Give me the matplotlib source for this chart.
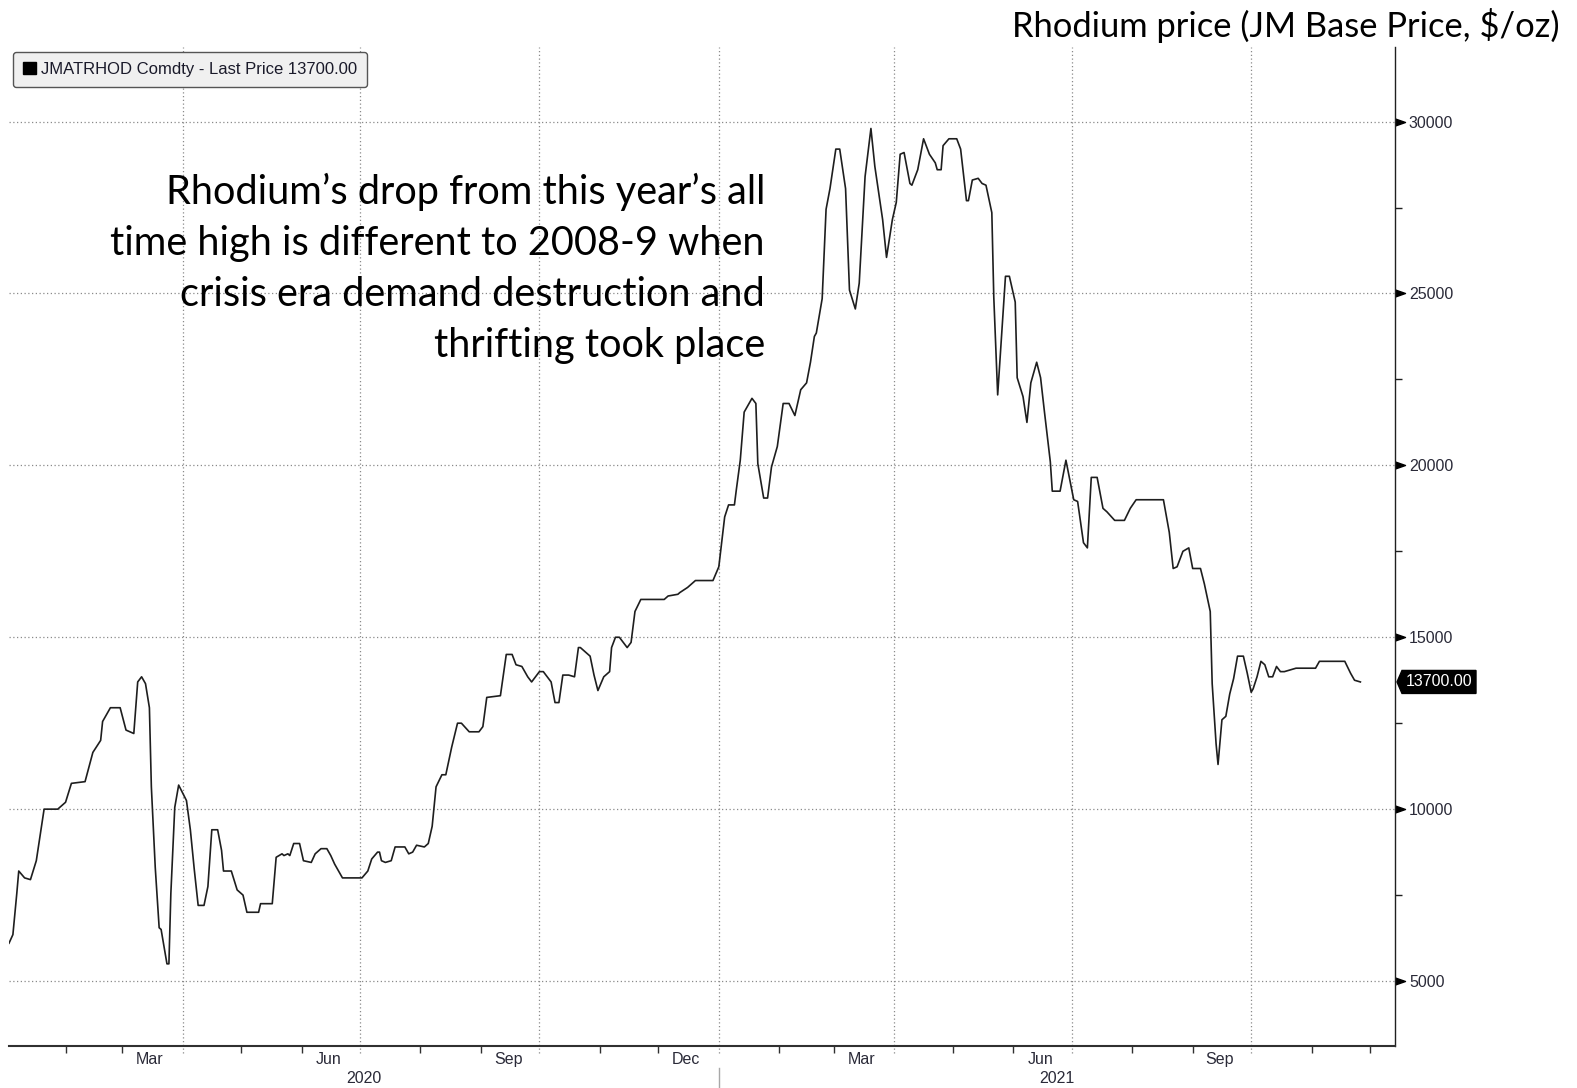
import matplotlib
matplotlib.use('Agg')
import matplotlib.pyplot as plt
import matplotlib.transforms as mtransforms
from matplotlib.patches import Patch, Polygon
import pandas as pd

# JM base rhodium price, $/oz
dates = [
    '2020-01-03', '2020-01-05', '2020-01-07', '2020-01-08', '2020-01-11', '2020-01-14', '2020-01-17',
    '2020-01-21', '2020-01-28', '2020-02-01', '2020-02-04', '2020-02-11', '2020-02-15', '2020-02-19',
    '2020-02-20', '2020-02-24', '2020-02-29', '2020-03-03', '2020-03-07', '2020-03-09', '2020-03-11',
    '2020-03-13', '2020-03-15', '2020-03-16', '2020-03-18', '2020-03-20', '2020-03-21', '2020-03-24',
    '2020-03-25', '2020-03-26', '2020-03-28', '2020-03-30', '2020-04-03', '2020-04-05', '2020-04-07',
    '2020-04-09', '2020-04-12', '2020-04-14', '2020-04-16', '2020-04-19', '2020-04-21', '2020-04-22',
    '2020-04-26', '2020-04-29', '2020-05-02', '2020-05-04', '2020-05-10', '2020-05-11', '2020-05-17',
    '2020-05-19', '2020-05-22', '2020-05-23', '2020-05-25', '2020-05-26', '2020-05-28', '2020-05-31',
    '2020-06-02', '2020-06-06', '2020-06-08', '2020-06-11', '2020-06-14', '2020-06-16', '2020-06-18',
    '2020-06-20', '2020-06-22', '2020-07-02', '2020-07-05', '2020-07-07', '2020-07-10', '2020-07-11',
    '2020-07-12', '2020-07-14', '2020-07-17', '2020-07-19', '2020-07-24', '2020-07-26', '2020-07-28',
    '2020-07-30', '2020-08-03', '2020-08-05', '2020-08-07', '2020-08-09', '2020-08-12', '2020-08-14',
    '2020-08-17', '2020-08-20', '2020-08-22', '2020-08-26', '2020-08-31', '2020-09-02', '2020-09-04',
    '2020-09-11', '2020-09-14', '2020-09-17', '2020-09-19', '2020-09-22', '2020-09-25', '2020-09-27',
    '2020-10-01', '2020-10-03', '2020-10-07', '2020-10-09', '2020-10-11', '2020-10-13', '2020-10-16',
    '2020-10-19', '2020-10-21', '2020-10-22', '2020-10-27', '2020-10-29', '2020-10-31', '2020-11-03',
    '2020-11-06', '2020-11-07', '2020-11-09', '2020-11-11', '2020-11-15', '2020-11-17', '2020-11-19',
    '2020-11-22', '2020-12-04', '2020-12-06', '2020-12-11', '2020-12-12', '2020-12-16', '2020-12-20',
    '2020-12-29', '2021-01-01', '2021-01-04', '2021-01-06', '2021-01-09', '2021-01-10', '2021-01-12',
    '2021-01-14', '2021-01-16', '2021-01-18', '2021-01-20', '2021-01-21', '2021-01-24', '2021-01-26',
    '2021-01-28', '2021-01-31', '2021-02-03', '2021-02-06', '2021-02-09', '2021-02-12', '2021-02-15',
    '2021-02-17', '2021-02-19', '2021-02-20', '2021-02-23', '2021-02-25', '2021-02-27', '2021-03-02',
    '2021-03-04', '2021-03-07', '2021-03-09', '2021-03-12', '2021-03-14', '2021-03-17', '2021-03-20',
    '2021-03-22', '2021-03-26', '2021-03-28', '2021-03-31', '2021-04-02', '2021-04-04', '2021-04-06',
    '2021-04-09', '2021-04-10', '2021-04-13', '2021-04-16', '2021-04-19', '2021-04-22', '2021-04-23',
    '2021-04-25', '2021-04-26', '2021-04-29', '2021-05-03', '2021-05-05', '2021-05-08', '2021-05-09',
    '2021-05-11', '2021-05-14', '2021-05-16', '2021-05-18', '2021-05-21', '2021-05-22', '2021-05-24',
    '2021-05-28', '2021-05-30', '2021-06-02', '2021-06-03', '2021-06-06', '2021-06-08', '2021-06-10',
    '2021-06-13', '2021-06-15', '2021-06-17', '2021-06-20', '2021-06-21', '2021-06-25', '2021-06-28',
    '2021-07-02', '2021-07-04', '2021-07-07', '2021-07-09', '2021-07-11', '2021-07-14', '2021-07-17',
    '2021-07-19', '2021-07-23', '2021-07-28', '2021-07-31', '2021-08-03', '2021-08-17', '2021-08-20',
    '2021-08-22', '2021-08-24', '2021-08-27', '2021-08-30', '2021-09-01', '2021-09-05', '2021-09-07',
    '2021-09-10', '2021-09-11', '2021-09-13', '2021-09-14', '2021-09-16', '2021-09-18', '2021-09-20',
    '2021-09-22', '2021-09-24', '2021-09-27', '2021-09-29', '2021-10-01', '2021-10-02', '2021-10-04',
    '2021-10-06', '2021-10-08', '2021-10-10', '2021-10-12', '2021-10-14', '2021-10-16', '2021-10-18',
    '2021-10-24', '2021-11-03', '2021-11-05', '2021-11-18', '2021-11-21', '2021-11-23', '2021-11-26',
]
prices = [
    6100, 6350, 7550, 8200, 8000, 7950, 8500,
    10000, 10000, 10200, 10750, 10800, 11650, 12000,
    12550, 12950, 12950, 12300, 12200, 13700, 13850,
    13650, 12950, 10650, 8300, 6550, 6500, 5500,
    5500, 7550, 10050, 10700, 10250, 9400, 8250,
    7200, 7200, 7750, 9400, 9400, 8800, 8200,
    8200, 7650, 7500, 7000, 7000, 7250, 7250,
    8600, 8700, 8650, 8700, 8650, 9000, 9000,
    8500, 8450, 8700, 8850, 8850, 8650, 8400,
    8200, 8000, 8000, 8200, 8550, 8750, 8750,
    8500, 8450, 8500, 8900, 8900, 8700, 8750,
    8950, 8900, 9000, 9500, 10650, 11000, 11000,
    11800, 12500, 12500, 12250, 12250, 12400, 13250,
    13300, 14500, 14500, 14200, 14150, 13850, 13700,
    14000, 14000, 13700, 13100, 13100, 13900, 13900,
    13850, 14700, 14700, 14450, 13900, 13450, 13850,
    14000, 14700, 15000, 15000, 14700, 14850, 15750,
    16100, 16100, 16200, 16250, 16300, 16450, 16650,
    16650, 17050, 18500, 18850, 18850, 19300, 20150,
    21550, 21750, 21950, 21800, 20050, 19050, 19050,
    19950, 20550, 21800, 21800, 21450, 22200, 22400,
    23000, 23750, 23850, 24850, 27450, 28050, 29200,
    29200, 28050, 25100, 24550, 25300, 28400, 29800,
    28700, 27150, 26050, 27150, 27650, 29050, 29100,
    28200, 28150, 28600, 29500, 29050, 28800, 28600,
    28600, 29300, 29500, 29500, 29200, 27700, 27700,
    28300, 28350, 28200, 28150, 27350, 24900, 22050,
    25500, 25500, 24750, 22550, 22000, 21250, 22400,
    23000, 22550, 21550, 20100, 19250, 19250, 20150,
    19000, 18950, 17750, 17600, 19650, 19650, 18750,
    18650, 18400, 18400, 18750, 19000, 19000, 18050,
    17000, 17050, 17500, 17600, 17000, 17000, 16550,
    15750, 13650, 11900, 11300, 12600, 12700, 13350,
    13800, 14450, 14450, 13950, 13400, 13500, 13850,
    14300, 14200, 13850, 13850, 14150, 14000, 14000,
    14100, 14100, 14300, 14300, 13950, 13750, 13700,
]

ticker = 'JMATRHOD Comdty'
title = 'Rhodium price (JM Base Price, $/oz)'
note_lines = [
    'Rhodium\u2019s drop from this year\u2019s all',
    'time high is different to 2008-9 when',
    'crisis era demand destruction and',
    'thrifting took place',
]
y_major = [5000, 10000, 15000, 20000, 25000, 30000]
y_minor = [7500, 12500, 17500, 22500, 27500]
month_labels = ['Mar', 'Jun', 'Sep', 'Dec']

W, H = 1577, 1088
axis_font = ['Liberation Sans', 'DejaVu Sans']
text_col = '#2a2a38'
grid_col = '#8a8a8a'

fig = plt.figure(figsize=(W / 100, H / 100), dpi=100)
ax = fig.add_axes([9 / W, 1 - 1046 / H, (1395 - 9) / W, (1046 - 47) / H])

x = pd.to_datetime(dates)
last = prices[-1]
ax.plot(x, prices, color='#1e1e1e', lw=1.2, solid_joinstyle='round')

x0, x1 = pd.Timestamp('2020-01-03'), pd.Timestamp('2021-12-13 18:00')
ax.set_xlim(x0, x1)
ax.set_ylim(3110, 32170)

for side in ('left', 'top'):
    ax.spines[side].set_visible(False)
ax.spines['bottom'].set_linewidth(1.5)
ax.spines['bottom'].set_color('#303030')
ax.spines['right'].set_linewidth(1.0)
ax.spines['right'].set_color('#202020')

# grid: dotted, quarter starts and every 5000
quarters = pd.date_range('2020-04-01', '2021-10-01', freq='QS')
for q in quarters:
    ax.axvline(q, ymin=-0.007, ymax=1, color=grid_col, lw=0.9, ls=(0, (1, 2)), clip_on=False, zorder=0)
for v in y_major:
    ax.axhline(v, color=grid_col, lw=0.9, ls=(0, (1, 2)), zorder=0)

# x axis: month ticks, labels centred in the month
months = [m for m in pd.date_range('2020-02-01', '2021-12-01', freq='MS') if m.month not in (1, 4, 7, 10)]
ax.set_xticks(months)
ax.set_xticklabels([])
ax.tick_params(axis='x', which='major', length=5, width=1, color='#303030', direction='out')
label_pos, label_txt = [], []
for yr in (2020, 2021):
    for name in month_labels:
        m = pd.Timestamp(f'{name} 15 {yr}')
        if x0 < m < x1:
            label_pos.append(m)
            label_txt.append(name)
ax.set_xticks(label_pos, minor=True)
ax.set_xticklabels(label_txt, minor=True, fontsize=11.5, family=axis_font, color=text_col)
ax.tick_params(axis='x', which='minor', length=0, pad=4)

# year labels and separator
tr_x = mtransforms.blended_transform_factory(ax.transData, ax.transAxes)
jan21 = pd.Timestamp('2021-01-01')
for a, b, yr in ((x0, jan21, '2020'), (jan21, x1, '2021')):
    ax.text(a + (b - a) / 2, -0.033, yr, transform=tr_x, ha='center', va='center',
            fontsize=11.5, family=axis_font, color=text_col)
ax.plot([jan21, jan21], [-0.022, -0.043], transform=tr_x, color='#a8a8a8', lw=1, clip_on=False)

# y axis on the right with arrow heads at major ticks
ax.yaxis.tick_right()
ax.set_yticks(y_major)
ax.set_yticklabels([str(v) for v in y_major], fontsize=11.5, family=axis_font, color=text_col)
ax.tick_params(axis='y', which='major', length=0, pad=10)
ax.set_yticks(y_minor, minor=True)
ax.tick_params(axis='y', which='minor', length=5, width=1, color='#202020', direction='out')
tr_y = mtransforms.blended_transform_factory(ax.transAxes, ax.transData)
ax.plot([1] * len(y_major), y_major, ls='none', marker=[(0, -3.5), (10, 0), (0, 3.5)],
        ms=14.4, color='black', transform=tr_y, clip_on=False)

# last price tag
tag_tf = mtransforms.Affine2D() + mtransforms.ScaledTranslation(1.0, last, tr_y)
tag = Polygon([(2, 0), (7, 11.5), (81, 11.5), (81, -11.5), (7, -11.5)], closed=True,
              fc='black', ec='black', transform=tag_tf, clip_on=False)
ax.add_artist(tag)
ax.annotate(f'{last:.2f}', xy=(1, last), xycoords=tr_y, xytext=(8.0, 0), textcoords='offset points',
            ha='left', va='center', color='white', fontsize=11.5, family=axis_font)

# legend box
leg = ax.legend(handles=[Patch(fc='black', ec='black')], labels=[f'{ticker} - Last Price {last:.2f}'],
                loc='upper left', bbox_to_anchor=(13 / W, 1 - 52 / H), bbox_transform=fig.transFigure,
                borderaxespad=0, fancybox=True, framealpha=1, facecolor='#f0f0f0', edgecolor='#555555',
                handlelength=0.75, handleheight=0.75, handletextpad=0.35, borderpad=0.6,
                prop={'family': axis_font, 'size': 12})
for t in leg.get_texts():
    t.set_color('#1a1a2a')
leg.get_frame().set_linewidth(1.0)

# headline and note
fig.text(1559 / W, 1 - 37 / H, title, ha='right', va='baseline', fontsize=24.8, family='Lato', color='black')
for i, line in enumerate(note_lines):
    fig.text(765 / W, 1 - (204 + 51 * i) / H, line, ha='right', va='baseline',
             fontsize=28.6, family='Lato', color='black')

fig.savefig('out.png', dpi=100)
